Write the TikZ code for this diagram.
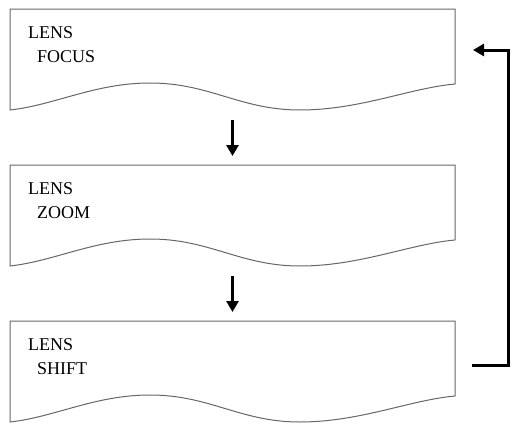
\documentclass[tikz,border=0pt]{standalone}
\usepackage{fontspec}
\setmainfont{Liberation Serif}
\usetikzlibrary{arrows.meta, positioning, calc}

\begin{document}
\begin{tikzpicture}[x=1pt, y=1pt,
    docbox/.style={minimum width=445pt, minimum height=101pt, inner sep=0pt, outer sep=0pt},
    lbl/.style={inner sep=0pt, align=left, font=\fontsize{18}{24}\selectfont},
    flow/.style={line width=3pt, -{Triangle[width=12pt, length=11pt]}, shorten <=10pt, shorten >=9pt}]
    \useasboundingbox (0,0) rectangle (515,-426);

    % Lens stages
    \node[docbox] (focus) at (232.5,-59.5) {};
    \node[docbox, below=55pt of focus] (zoom) {};
    \node[docbox, below=55pt of zoom] (shift) {};

    % Wavy document outlines
    \foreach \n in {focus, zoom, shift} {
        \draw[black!60, line width=1pt] ([yshift=26pt]\n.south east) -- (\n.north east) -- (\n.north west) -- (\n.south west)
            .. controls ($(\n.south west)+(45,5)$) and ($(\n.south west)+(85,27)$) .. ($(\n.south west)+(140,27)$)
            .. controls ($(\n.south west)+(200,27)$) and ($(\n.south west)+(230,0)$) .. ($(\n.south west)+(290,0)$)
            .. controls ($(\n.south west)+(350,0)$) and ($(\n.south west)+(400,22)$) .. ([yshift=26pt]\n.south east);
    }

    % Labels
    \node[lbl, below right=17pt and 18pt of focus.north west] (focus-t) {LENS\\\hspace*{9pt}FOCUS};
    \node[lbl, below right=17pt and 18pt of zoom.north west] (zoom-t) {LENS\\\hspace*{9pt}ZOOM};
    \node[lbl, below right=17pt and 18pt of shift.north west] (shift-t) {LENS\\\hspace*{9pt}SHIFT};

    % Arrows
    \draw[flow] (focus) -- (zoom);
    \draw[flow] (zoom) -- (shift);
    \draw[flow, shorten <=0pt, shorten >=0pt] ([xshift=17pt, yshift=-44pt]shift.north east) -- ++(36,0)
        |- ([xshift=18pt, yshift=-41pt]focus.north east);
\end{tikzpicture}
\end{document}
